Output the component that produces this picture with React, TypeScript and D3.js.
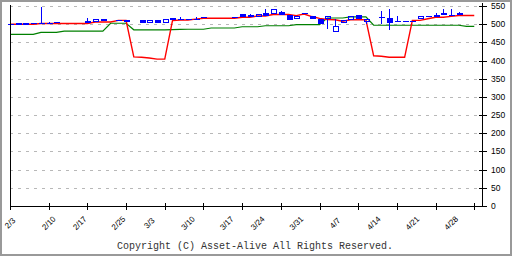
import React from 'react';
import * as d3 from 'd3';

// Trading days (x slots)
const days = ["2/3","2/4","2/5","2/6","2/7","2/10","2/12","2/13","2/14","2/17","2/18","2/19","2/20","2/21","2/25","2/26","2/27","2/28","3/3","3/4","3/5","3/6","3/7","3/10","3/11","3/12","3/13","3/14","3/17","3/18","3/19","3/21","3/24","3/25","3/26","3/27","3/28","3/31","4/1","4/2","4/3","4/4","4/7","4/8","4/9","4/10","4/11","4/14","4/15","4/16","4/17","4/18","4/21","4/22","4/23","4/24","4/25","4/28","4/30","5/1","5/2"];

const tickLabels = ["2/3","2/10","2/17","2/25","3/3","3/10","3/17","3/24","3/31","4/7","4/14","4/21","4/28"];
const yTicks = [0, 50, 100, 150, 200, 250, 300, 350, 400, 450, 500, 550];

const N = null;
const open  = [500,502,502,504,504,504,507,N,N,N,510,507,514,N,511,511,N,511,503,511,503,518,515,514,514,521,N,N,N,521,528,525,521,532,528,533,525,515,532,522,514,513,479,503,512,525,506,N,519,516,509,510,510,513,522,524,531,525,531,N,N];
const high  = [500,502,502,504,548,506,507,N,N,N,518,514,514,N,511,511,N,511,511,511,514,518,520,514,520,521,N,N,N,521,528,528,528,541,541,537,525,523,532,522,514,523,513,511,522,525,514,N,537,543,523,510,510,522,522,532,541,541,533,N,N];
const low   = [500,499,499,500,500,500,503,N,N,N,504,507,509,N,508,505,N,503,503,503,503,511,512,511,513,516,N,N,N,516,519,520,521,522,528,524,511,515,528,515,500,486,479,503,512,514,501,N,500,484,509,510,510,513,522,519,525,525,526,N,N];
const close = [500,499,499,500,500,500,503,N,N,N,504,514,509,N,508,505,N,503,511,503,514,511,512,511,513,516,N,N,N,516,519,520,528,522,541,524,511,523,528,515,500,523,495,511,522,514,514,N,519,504,509,510,510,522,522,519,525,525,526,N,N];

const ma5 = [500,500,500,500,502,502,502,502,502,502,502,506,506,506,510.5,510.5,410,409,407,404,404,510,511.5,511.5,514,516.5,516.5,516.5,516.5,516.5,519,519,522.5,522.5,526.5,526.5,526.5,523.5,528,521,516,513,512,508,512,513,512,413,412,409,409,409,510.5,510.5,515,519,519,521.5,524,524,524];
const ma25 = [472,472,472,472,477.5,477.5,477.5,481,481,481,481,481,481,502.5,502.5,502.5,484.5,484.5,484.5,484.5,484.5,485,485.5,486,486,486,489.5,489.5,489.5,489.5,493,493,493,495.7,495.7,495.7,495.7,498.6,498.6,498.6,498.6,517,517,517,520,520,520,497,497,497,497,497,497,497,497,497,497,497,497,494,494];

const W = 512, H = 256;
const BLUE = '#0000ff', RED = '#ff0000', GREEN = '#008000';

export default function App() {
  const x = d3.scaleLinear().domain([0, 61]).range([10, 482]);
  const y = d3.scaleLinear().domain([0, 550]).range([206, 6]);
  const px = (v: number) => Math.round(v) + 0.5;

  const line = d3.line<number>().x((_, i) => x(i)).y(d => y(d));
  const slotTicks = d3.range(0, 61, 5);

  const candles = days.map((d, i) => ({ d, i, o: open[i], h: high[i], l: low[i], c: close[i] }))
    .filter(k => k.o !== null);

  return (
    <svg width={W} height={H} style={{ position: 'absolute', left: 0, top: 0, background: '#fff' }}
      fontFamily="'Liberation Sans', Arial, sans-serif">
      <rect x={1} y={1} width={W - 2} height={H - 2} fill="#fff" stroke="#999" strokeWidth={2} />
      {/* grid */}
      {yTicks.filter(t => t > 0).map(t => (
        <line key={'g' + t} x1={x(0)} x2={x(61)} y1={px(y(t))} y2={px(y(t))}
          stroke="#b8b8b8" strokeDasharray="3,5" shapeRendering="crispEdges" />
      ))}
      {/* moving averages */}
      <path d={line(ma25) || ''} fill="none" stroke={GREEN} strokeWidth={1.2} />
      <path d={line(ma5) || ''} fill="none" stroke={RED} strokeWidth={1.4} />
      {/* candles */}
      {candles.map(k => {
        const cx = px(x(k.i));
        const o = k.o as number, c = k.c as number, h = k.h as number, l = k.l as number;
        const top = Math.min(o, c), bot = Math.max(o, c);
        const yTop = Math.round(y(bot)), yBot = Math.round(y(top));
        const up = c > o;
        return (
          <g key={k.d} shapeRendering="crispEdges">
            {h > bot && <line x1={cx} x2={cx} y1={y(h)} y2={yTop} stroke={BLUE} />}
            {l < top && <line x1={cx} x2={cx} y1={yBot} y2={y(l)} stroke={BLUE} />}
            {o === c ? (
              <line x1={cx - 3} x2={cx + 3} y1={px(y(o))} y2={px(y(o))} stroke={BLUE} />
            ) : up ? (
              <rect x={cx - 2.5} y={yTop + 0.5} width={5} height={Math.max(yBot - yTop - 1, 1)}
                fill="none" stroke={BLUE} />
            ) : (
              <rect x={cx - 3} y={yTop} width={6} height={Math.max(yBot - yTop, 1)} fill={BLUE} />
            )}
          </g>
        );
      })}
      {/* axes */}
      <g stroke="#000" shapeRendering="crispEdges">
        <line x1={px(x(0))} x2={px(x(0))} y1={5} y2={206} />
        <line x1={px(x(61))} x2={px(x(61))} y1={3} y2={207} />
        <line x1={x(0)} x2={x(61)} y1={px(y(0))} y2={px(y(0))} />
        {slotTicks.map(t => (
          <line key={'xt' + t} x1={px(x(t))} x2={px(x(t))} y1={203} y2={210} />
        ))}
        {yTicks.map(t => (
          <line key={'yt' + t} x1={479} x2={487} y1={px(y(t))} y2={px(y(t))} />
        ))}
      </g>
      {yTicks.map(t => (
        <text key={'yl' + t} x={491} y={y(t)} dy="0.35em" fontSize={8.5} fill="#000">{t}</text>
      ))}
      {tickLabels.map(lb => {
        const cx = x(days.indexOf(lb));
        return (
          <text key={'xl' + lb} x={0} y={0} transform={`translate(${cx},223) rotate(-45)`}
            textAnchor="middle" dy="0.35em" fontSize={8} fill="#000">{lb}</text>
        );
      })}
      <text x={117} y={249} fontFamily="'Liberation Mono', 'DejaVu Sans Mono', monospace" fontSize={10} fill="#333">
        Copyright (C) Asset-Alive All Rights Reserved.
      </text>
    </svg>
  );
}
